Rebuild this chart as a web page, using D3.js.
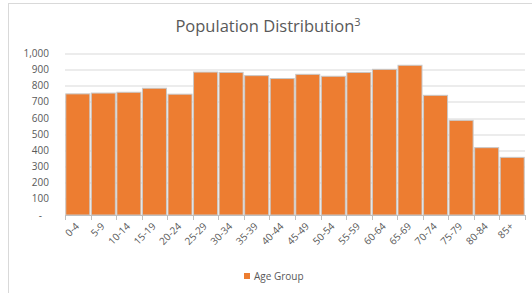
<!DOCTYPE html>
<html>
<head>
<meta charset="utf-8">
<script src="https://cdn.jsdelivr.net/npm/d3@7"></script>
<style>
  body { margin: 0; background: #fff; }
  text { font-family: "Open Sans", sans-serif; }
</style>
</head>
<body>
<div class="chart"></div>
<script>
const ageGroups = ["0-4","5-9","10-14","15-19","20-24","25-29","30-34","35-39","40-44","45-49","50-54","55-59","60-64","65-69","70-74","75-79","80-84","85+"];
const population = [750, 755, 760, 785, 748, 885, 883, 863, 845, 871, 859, 883, 902, 927, 741, 586, 417, 357];
const yTicks = [0, 100, 200, 300, 400, 500, 600, 700, 800, 900, 1000];

const W = 532, H = 293;
const margin = {top: 53.5, right: 7, bottom: 78, left: 65};
const width = W - margin.left - margin.right;
const height = H - margin.top - margin.bottom;

const svg = d3.select('.chart').append('svg')
    .attr("width", W)
    .attr("height", H);

// chart frame
svg.append("rect")
    .attr("x", 8.5).attr("y", 3.5)
    .attr("width", W).attr("height", H)
    .attr("fill", "none")
    .attr("stroke", "#d9d9d9");

svg.append("text")
    .attr("x", 268)
    .attr("y", 32)
    .attr("text-anchor", "middle")
    .attr("fill", "#595959")
    .attr("font-size", "16.5px")
    .html('Population Distribution<tspan dy="-6" font-size="11px">3</tspan>');

const g = svg.append("g")
    .attr("transform", `translate(${margin.left},${margin.top})`);

const xScale = d3.scaleBand()
    .domain(ageGroups)
    .range([0, width])
    .paddingInner(0.06)
    .paddingOuter(0.03);

const yScale = d3.scaleLinear()
    .domain([0, 1000])
    .range([height, 0]);

// gridlines
g.selectAll(".grid")
    .data(yTicks.slice(1))
    .enter()
    .append("line")
    .attr("x1", 0).attr("x2", width)
    .attr("y1", d => Math.round(yScale(d)) + 0.5)
    .attr("y2", d => Math.round(yScale(d)) + 0.5)
    .attr("stroke", "#d9d9d9");

// y labels
g.selectAll(".ylab")
    .data(yTicks)
    .enter()
    .append("text")
    .attr("x", d => d === 0 ? -23 : -16)
    .attr("y", d => yScale(d) + 3.5)
    .attr("text-anchor", "end")
    .attr("fill", "#595959")
    .attr("font-size", "10px")
    .text(d => d === 0 ? "-" : d3.format(",")(d));

// bars
g.selectAll(".bar")
    .data(population)
    .enter()
    .append("rect")
    .attr("x", (d, i) => xScale(ageGroups[i]))
    .attr("y", d => yScale(d))
    .attr("width", xScale.bandwidth())
    .attr("height", d => height - yScale(d))
    .attr("fill", "#ED7D31")
    .attr("stroke", "#c8c8c8")
    .attr("stroke-width", 1);

// x axis line and ticks at band boundaries
g.append("line")
    .attr("x1", 0).attr("x2", width)
    .attr("y1", height + 0.5).attr("y2", height + 0.5)
    .attr("stroke", "#bfbfbf");

const step = xScale.step();
g.selectAll(".xtick")
    .data(d3.range(ageGroups.length + 1))
    .enter()
    .append("line")
    .attr("x1", i => Math.round(i * width / ageGroups.length) + 0.5)
    .attr("x2", i => Math.round(i * width / ageGroups.length) + 0.5)
    .attr("y1", height)
    .attr("y2", height + 5)
    .attr("stroke", "#bfbfbf");

g.selectAll(".xlab")
    .data(ageGroups)
    .enter()
    .append("text")
    .attr("transform", d => `translate(${xScale(d) + xScale.bandwidth() / 2 + 2},${height + 12}) rotate(-45)`)
    .attr("text-anchor", "end")
    .attr("fill", "#595959")
    .attr("font-size", "10px")
    .text(d => d);

// legend
svg.append("rect")
    .attr("x", 244).attr("y", 273)
    .attr("width", 6).attr("height", 6)
    .attr("fill", "#ED7D31");

svg.append("text")
    .attr("x", 254)
    .attr("y", 280)
    .attr("fill", "#595959")
    .attr("font-size", "10px")
    .text("Age Group");
</script>
</body>
</html>
